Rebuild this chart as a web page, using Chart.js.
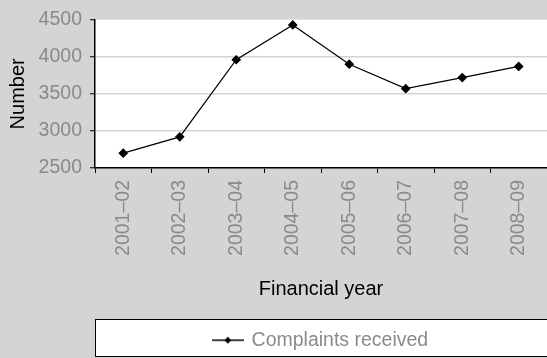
<!DOCTYPE html>
<html>
<head>
<meta charset="utf-8">
<script src="https://cdn.jsdelivr.net/npm/chart.js@4/dist/chart.umd.min.js"></script>
<style>
  html, body { margin: 0; padding: 0; background: #d4d4d6; }
  canvas { display: block; }
</style>
</head>
<body>
<canvas id="complaintsChart" width="547" height="358"></canvas>
<script>
// Complaints received per financial year
const years = ['2001–02', '2002–03', '2003–04', '2004–05', '2005–06', '2006–07', '2007–08', '2008–09'];
const complaints = [2700, 2920, 3960, 4430, 3900, 3570, 3720, 3870];
const yTicks = { min: 2500, max: 4500, step: 500 };

const FONT = "'Liberation Sans', Arial, Helvetica, sans-serif";
const GREY_TEXT = '#8a8a8a';

// little line-with-diamond swatch for the legend
function makeLegendSwatch() {
    const c = document.createElement('canvas');
    c.width = 32;
    c.height = 10;
    const g = c.getContext('2d');
    g.strokeStyle = '#000';
    g.lineWidth = 1.5;
    g.beginPath();
    g.moveTo(0, 5);
    g.lineTo(32, 5);
    g.stroke();
    g.fillStyle = '#000';
    g.beginPath();
    g.moveTo(16, 1.5);
    g.lineTo(19.5, 5);
    g.lineTo(16, 8.5);
    g.lineTo(12.5, 5);
    g.closePath();
    g.fill();
    return c;
}
const legendSwatch = makeLegendSwatch();

// white plot panel and framed legend box
const panels = {
    id: 'panels',
    beforeDraw(chart) {
        const { ctx, chartArea, legend } = chart;
        ctx.save();
        ctx.fillStyle = '#fff';
        ctx.fillRect(chartArea.left, chartArea.top, chartArea.right - chartArea.left, chartArea.bottom - chartArea.top);
        const x = legend.left + 0.5;
        const y = legend.top - 2.5;
        const w = chart.width - legend.left + 2;
        const h = chart.height - 1.5 - y;
        ctx.fillRect(x, y, w, h);
        ctx.strokeStyle = '#000';
        ctx.lineWidth = 1;
        ctx.strokeRect(x, y, w, h);
        ctx.restore();
    }
};

new Chart(document.getElementById('complaintsChart'), {
    type: 'line',
    data: {
        labels: years,
        datasets: [{
            label: 'Complaints received',
            data: complaints,
            borderColor: '#000',
            backgroundColor: '#000',
            borderWidth: 1.2,
            pointStyle: 'rectRot',
            pointRadius: 4,
            pointBackgroundColor: '#000',
            pointBorderColor: '#000',
            tension: 0,
            fill: false
        }]
    },
    options: {
        responsive: false,
        animation: false,
        devicePixelRatio: 1,
        layout: {
            autoPadding: false,
            padding: { left: 0, top: 17, right: -1, bottom: -2 }
        },
        plugins: {
            tooltip: { enabled: false },
            legend: {
                position: 'bottom',
                fullSize: false,
                labels: {
                    usePointStyle: true,
                    pointStyleWidth: 28,
                    padding: 8.5,
                    color: GREY_TEXT,
                    font: { family: FONT, size: 19.5 },
                    generateLabels(chart) {
                        return Chart.defaults.plugins.legend.labels.generateLabels(chart).map(item => {
                            item.pointStyle = legendSwatch;
                            return item;
                        });
                    }
                }
            }
        },
        scales: {
            x: {
                offset: true,
                grid: {
                    offset: true,
                    drawOnChartArea: false,
                    drawTicks: true,
                    tickLength: 5,
                    tickColor: '#000',
                    tickWidth: 1
                },
                border: { color: '#000', width: 1.5 },
                ticks: {
                    minRotation: 90,
                    maxRotation: 90,
                    autoSkip: false,
                    padding: 7,
                    color: GREY_TEXT,
                    font: { family: FONT, size: 19.5 }
                },
                title: {
                    display: true,
                    text: 'Financial year',
                    color: '#000',
                    font: { family: FONT, size: 20 },
                    padding: { top: 0, bottom: 21 }
                },
                afterFit(scale) {
                    scale.height = 154;
                    scale.paddingLeft = 0;
                    scale.paddingRight = 0;
                }
            },
            y: {
                min: yTicks.min,
                max: yTicks.max,
                grid: {
                    color: ctx => (ctx.tick && ctx.tick.value === yTicks.max) ? 'rgba(0,0,0,0)' : '#d2d2d2',
                    lineWidth: 1.5,
                    tickLength: 5,
                    tickColor: '#000',
                    tickWidth: 1
                },
                border: { color: '#000', width: 1.5 },
                ticks: {
                    stepSize: yTicks.step,
                    padding: 8,
                    color: GREY_TEXT,
                    font: { family: FONT, size: 19.5 },
                    callback: value => String(value)
                },
                title: {
                    display: true,
                    text: 'Number',
                    color: '#000',
                    font: { family: FONT, size: 20 },
                    padding: { top: 6.5, bottom: 0 }
                },
                afterFit(scale) { scale.width = 95; }
            }
        }
    },
    plugins: [panels]
});
</script>
</body>
</html>
